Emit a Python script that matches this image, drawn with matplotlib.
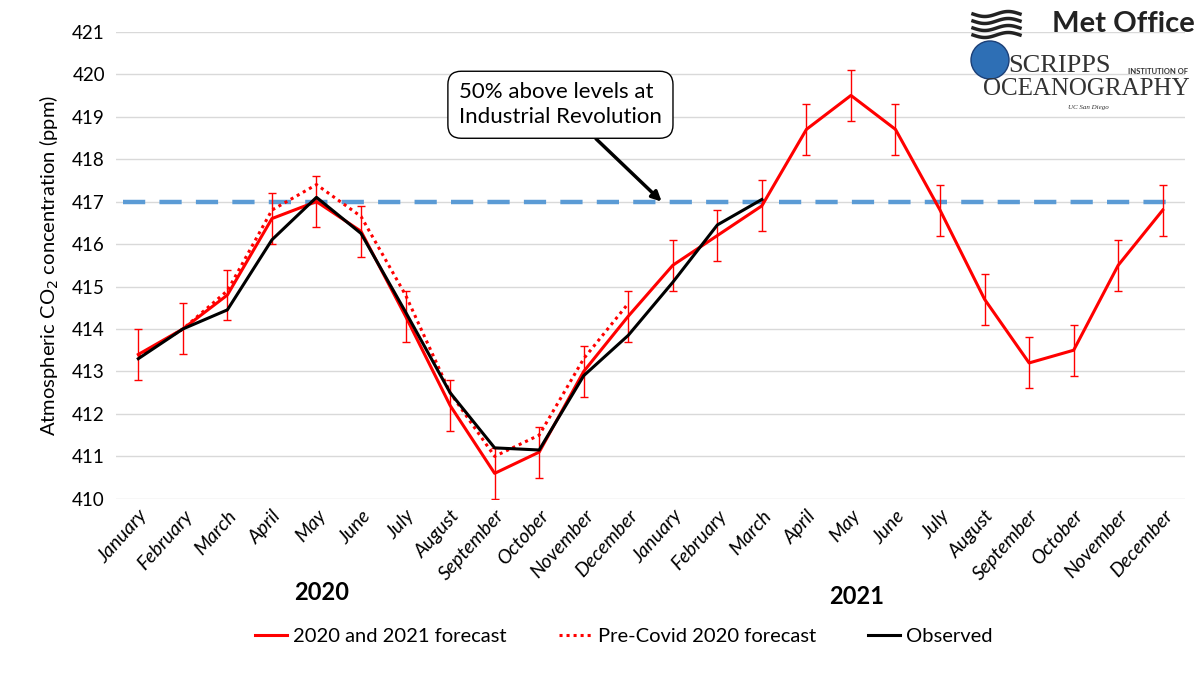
import numpy as np
import matplotlib.pyplot as plt
from matplotlib.patches import Ellipse
from matplotlib.lines import Line2D

plt.rcParams['font.family'] = ['Lato', 'DejaVu Sans']

months = ['January', 'February', 'March', 'April', 'May', 'June', 'July',
          'August', 'September', 'October', 'November', 'December'] * 2

forecast = [413.4, 414.0, 414.8, 416.6, 417.0, 416.3, 414.3, 412.2, 410.6, 411.1, 413.0, 414.3,
            415.5, 416.2, 416.9, 418.7, 419.5, 418.7, 416.8, 414.7, 413.2, 413.5, 415.5, 416.8]
forecast_err = [0.6] * 24
precovid = [413.35, 414.0, 414.9, 416.8, 417.4, 416.65, 414.8, 412.5, 411.0, 411.5, 413.3, 414.6]
observed = [413.3, 414.0, 414.45, 416.1, 417.1, 416.25, 414.4, 412.5, 411.2, 411.15, 412.9, 413.85,
            415.1, 416.45, 417.05]
threshold = 417.0

x = np.arange(len(months))

fig = plt.figure(figsize=(12, 6.75), dpi=100)
ax = fig.add_axes([0.0967, 0.261, 0.8908, 0.692])

ax.plot([-0.35, 23.35], [threshold, threshold], color='#5B9BD5', lw=3.2,
        dashes=(5, 3.2), zorder=1)
ax.errorbar(x, forecast, yerr=forecast_err, color='#FF0000', lw=2.2,
            elinewidth=1.0, capsize=3, capthick=1.0, zorder=3)
ax.plot(x[:12], precovid, color='#FF0000', lw=2.2, linestyle=(0, (1, 1.3)), zorder=2)
ax.plot(x[:15], observed, color='black', lw=2.2, zorder=4)

ax.set_xlim(-0.5, 23.5)
ax.set_ylim(410, 421)
ax.set_yticks(np.arange(410, 422, 1))
ax.set_xticks(x)
ax.set_xticklabels(months, rotation=48, ha='right', rotation_mode='anchor',
                   fontstyle='italic', fontsize=14)
ax.tick_params(axis='y', labelsize=13.5, length=0, pad=8)
ax.tick_params(axis='x', length=0, pad=6)
ax.grid(axis='y', color='#D9D9D9', lw=1)
ax.set_axisbelow(True)
for s in ax.spines.values():
    s.set_visible(False)

ax.set_ylabel('Atmospheric CO$_2$ concentration (ppm)', fontsize=14.5, labelpad=8)

# year labels
fig.text(322 / 1200, 1 - 592 / 675, '2020', fontsize=17, fontweight='bold',
         ha='center', va='center')
fig.text(857 / 1200, 1 - 597 / 675, '2021', fontsize=17, fontweight='bold',
         ha='center', va='center')

# annotation
ax.annotate('50% above levels at\nIndustrial Revolution',
            xy=(11.75, threshold), xytext=(7.2, 419.28),
            fontsize=16, ha='left', va='center', linespacing=1.3,
            bbox=dict(boxstyle='round,pad=0.5,rounding_size=0.6', fc='white',
                      ec='black', lw=1),
            arrowprops=dict(arrowstyle='-|>', color='black', lw=2.5,
                            mutation_scale=14, shrinkA=0, shrinkB=0),
            zorder=5)

# logos as text
W, H = 1200, 675
fig.text(1195 / W, 1 - 24 / H, 'Met Office', fontsize=21, fontweight='bold',
         ha='right', va='center', color='#222222')
xs = np.linspace(973, 1020, 40)
for i in range(4):
    yy = 14 + i * 7
    fig.lines.append(Line2D(xs / W, 1 - (yy + 2.5 * np.sin((xs - 973) / 47 * 2 * np.pi)) / H,
                            transform=fig.transFigure, color='#222222', lw=2.5))
fig.patches.append(Ellipse((990 / W, 1 - 60 / H), 38 / W, 38 / H, transform=fig.transFigure,
                           facecolor='#2E6FB5', edgecolor='#1B3F77', lw=1))
fig.text(1008 / W, 1 - 66 / H, 'SCRIPPS', fontsize=19, family='Liberation Serif',
         ha='left', va='center', color='#333333')
fig.text(1188 / W, 1 - 71 / H, 'INSTITUTION OF', fontsize=5.5, fontweight='bold',
         ha='right', va='center', color='#333333')
fig.text(1190 / W, 1 - 89 / H, 'OCEANOGRAPHY', fontsize=18, family='Liberation Serif',
         ha='right', va='center', color='#333333')
fig.text(1088 / W, 1 - 107 / H, 'UC San Diego', fontsize=5, fontstyle='italic',
         family='Liberation Serif', ha='center', va='center', color='#333333')

handles = [Line2D([], [], color='#FF0000', lw=2.2),
           Line2D([], [], color='#FF0000', lw=2.2, linestyle=(0, (1, 1.3))),
           Line2D([], [], color='black', lw=2.2)]
labels = ['2020 and 2021 forecast', 'Pre-Covid 2020 forecast', 'Observed']
ax.legend(handles, labels, loc='center', bbox_to_anchor=(0.52, 1 - 636 / 675),
          bbox_transform=fig.transFigure, ncol=3, frameon=False, fontsize=14.5,
          handlelength=1.6, handletextpad=0.3, columnspacing=2.6)

fig.savefig('out.png', dpi=100)
